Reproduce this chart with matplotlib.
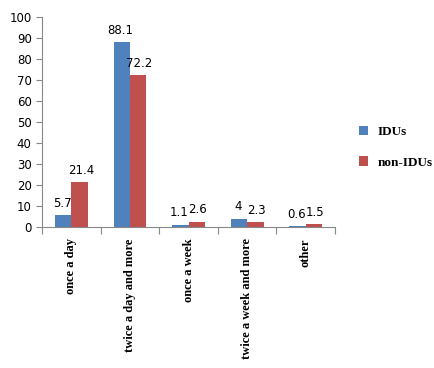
import matplotlib.pyplot as plt
import numpy as np

categories = ["once a day", "twice a day and more", "once a week", "twice a week and more", "other"]
idus = [5.7, 88.1, 1.1, 4, 0.6]
non_idus = [21.4, 72.2, 2.6, 2.3, 1.5]
idus_labels = ["5.7", "88.1", "1.1", "4", "0.6"]
non_idus_labels = ["21.4", "72.2", "2.6", "2.3", "1.5"]

blue = "#4f81bd"
red = "#c0504d"

fig = plt.figure(figsize=(4.34, 3.68), dpi=100)
ax = fig.add_axes([0.097, 0.383, 0.675, 0.571])

x = np.arange(len(categories))
w = 0.28
b1 = ax.bar(x - w / 2, idus, w, color=blue, label="IDUs")
b2 = ax.bar(x + w / 2, non_idus, w, color=red, label="non-IDUs")

# value labels above each bar
for xi, v, t in zip(x, idus, idus_labels):
    ax.text(xi - w / 2 - 0.02, v + 2.5, t, ha="center", va="bottom", fontsize=8.5)
for xi, v, t in zip(x, non_idus, non_idus_labels):
    ax.text(xi + w / 2 + 0.02, v + 2.5, t, ha="center", va="bottom", fontsize=8.5)

ax.set_xlim(-0.5, len(categories) - 0.5)
ax.set_ylim(0, 100)
ax.set_yticks(range(0, 101, 10))
ax.tick_params(axis="y", labelsize=8.5, length=4, color="#888888")
ax.set_xticks(np.arange(-0.5, len(categories), 1.0))
ax.set_xticklabels([])
ax.tick_params(axis="x", length=5, color="#888888")
ax.set_xticks(x, minor=True)
ax.set_xticklabels(categories, minor=True, rotation=90, family="Liberation Serif",
                   fontweight="bold", fontsize=9)
ax.tick_params(axis="x", which="minor", length=0, pad=8)
for lbl in ax.get_xticklabels(minor=True):
    lbl.set_va("top")

for s in ["top", "right"]:
    ax.spines[s].set_visible(False)
ax.spines["left"].set_color("#888888")
ax.spines["bottom"].set_color("#888888")

fig.legend(handles=[b1, b2], loc="center left", bbox_to_anchor=(0.8, 0.6),
           frameon=False, handlelength=0.7, handleheight=0.7, labelspacing=1.4,
           handletextpad=0.7,
           prop={"family": "Liberation Serif", "weight": "bold", "size": 9.5})

fig.savefig("out.png", dpi=100)
